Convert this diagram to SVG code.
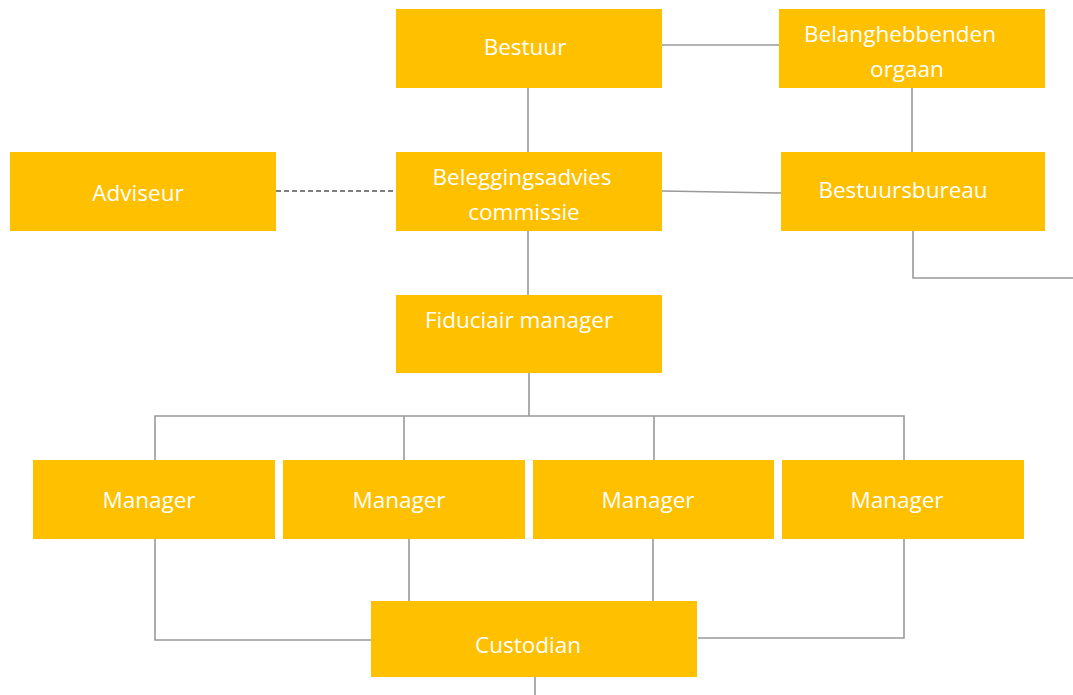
<svg xmlns="http://www.w3.org/2000/svg" width="1073" height="695" viewBox="0 0 1073 695">
<style>
.box{fill:#FFC000;}
.t{font-family:"Open Sans","Liberation Sans",sans-serif;font-size:22.5px;fill:#ffffff;text-anchor:middle;}
.ln{stroke:#999999;stroke-width:1.6;fill:none;}
.dash{stroke:#808080;stroke-width:2.2;stroke-dasharray:5 3;fill:none;}
</style>
<rect width="1073" height="695" fill="#ffffff"/>
<g id="connectors">
<line class="ln" x1="662" y1="45" x2="779" y2="45"/>
<line class="ln" x1="528" y1="88" x2="528" y2="152"/>
<line class="ln" x1="912" y1="88" x2="912" y2="152"/>
<line class="dash" x1="276" y1="191" x2="396" y2="191"/>
<line class="ln" x1="662" y1="191" x2="781" y2="193"/>
<polyline class="ln" points="913,231 913,278 1073,278"/>
<line class="ln" x1="528" y1="231" x2="528" y2="295"/>
<line class="ln" x1="529" y1="373" x2="529" y2="416"/>
<polyline class="ln" points="155,460 155,416 904,416 904,460"/>
<line class="ln" x1="404" y1="416" x2="404" y2="460"/>
<line class="ln" x1="654" y1="416" x2="654" y2="460"/>
<polyline class="ln" points="155,539 155,640 371,640"/>
<line class="ln" x1="409" y1="539" x2="409" y2="603"/>
<line class="ln" x1="653" y1="539" x2="653" y2="603"/>
<polyline class="ln" points="904,539 904,638 698,638"/>
<line class="ln" x1="535" y1="677" x2="535" y2="695"/>
</g>
<g id="bestuur"><rect class="box" x="396" y="9" width="266" height="79"/><text class="t" x="525" y="55">Bestuur</text></g>
<g id="belanghebbenden"><rect class="box" x="779" y="9" width="266" height="79"/><text class="t" x="900" y="42">Belanghebbenden</text><text class="t" x="907" y="77">orgaan</text></g>
<g id="adviseur"><rect class="box" x="10" y="152" width="266" height="79"/><text class="t" x="138" y="201">Adviseur</text></g>
<g id="beleggingsadvies"><rect class="box" x="396" y="152" width="266" height="79"/><text class="t" x="522" y="185">Beleggingsadvies</text><text class="t" x="524" y="220">commissie</text></g>
<g id="bestuursbureau"><rect class="box" x="781" y="152" width="264" height="79"/><text class="t" x="903" y="198">Bestuursbureau</text></g>
<g id="fiduciair"><rect class="box" x="396" y="295" width="266" height="78"/><text class="t" x="519" y="328">Fiduciair manager</text></g>
<g id="manager1"><rect class="box" x="33" y="460" width="242" height="79"/><text class="t" x="149" y="508">Manager</text></g>
<g id="manager2"><rect class="box" x="283" y="460" width="242" height="79"/><text class="t" x="399" y="508">Manager</text></g>
<g id="manager3"><rect class="box" x="533" y="460" width="241" height="79"/><text class="t" x="648" y="508">Manager</text></g>
<g id="manager4"><rect class="box" x="782" y="460" width="242" height="79"/><text class="t" x="897" y="508">Manager</text></g>
<g id="custodian"><rect class="box" x="371" y="601" width="326" height="76"/><text class="t" x="528" y="653">Custodian</text></g>
</svg>
